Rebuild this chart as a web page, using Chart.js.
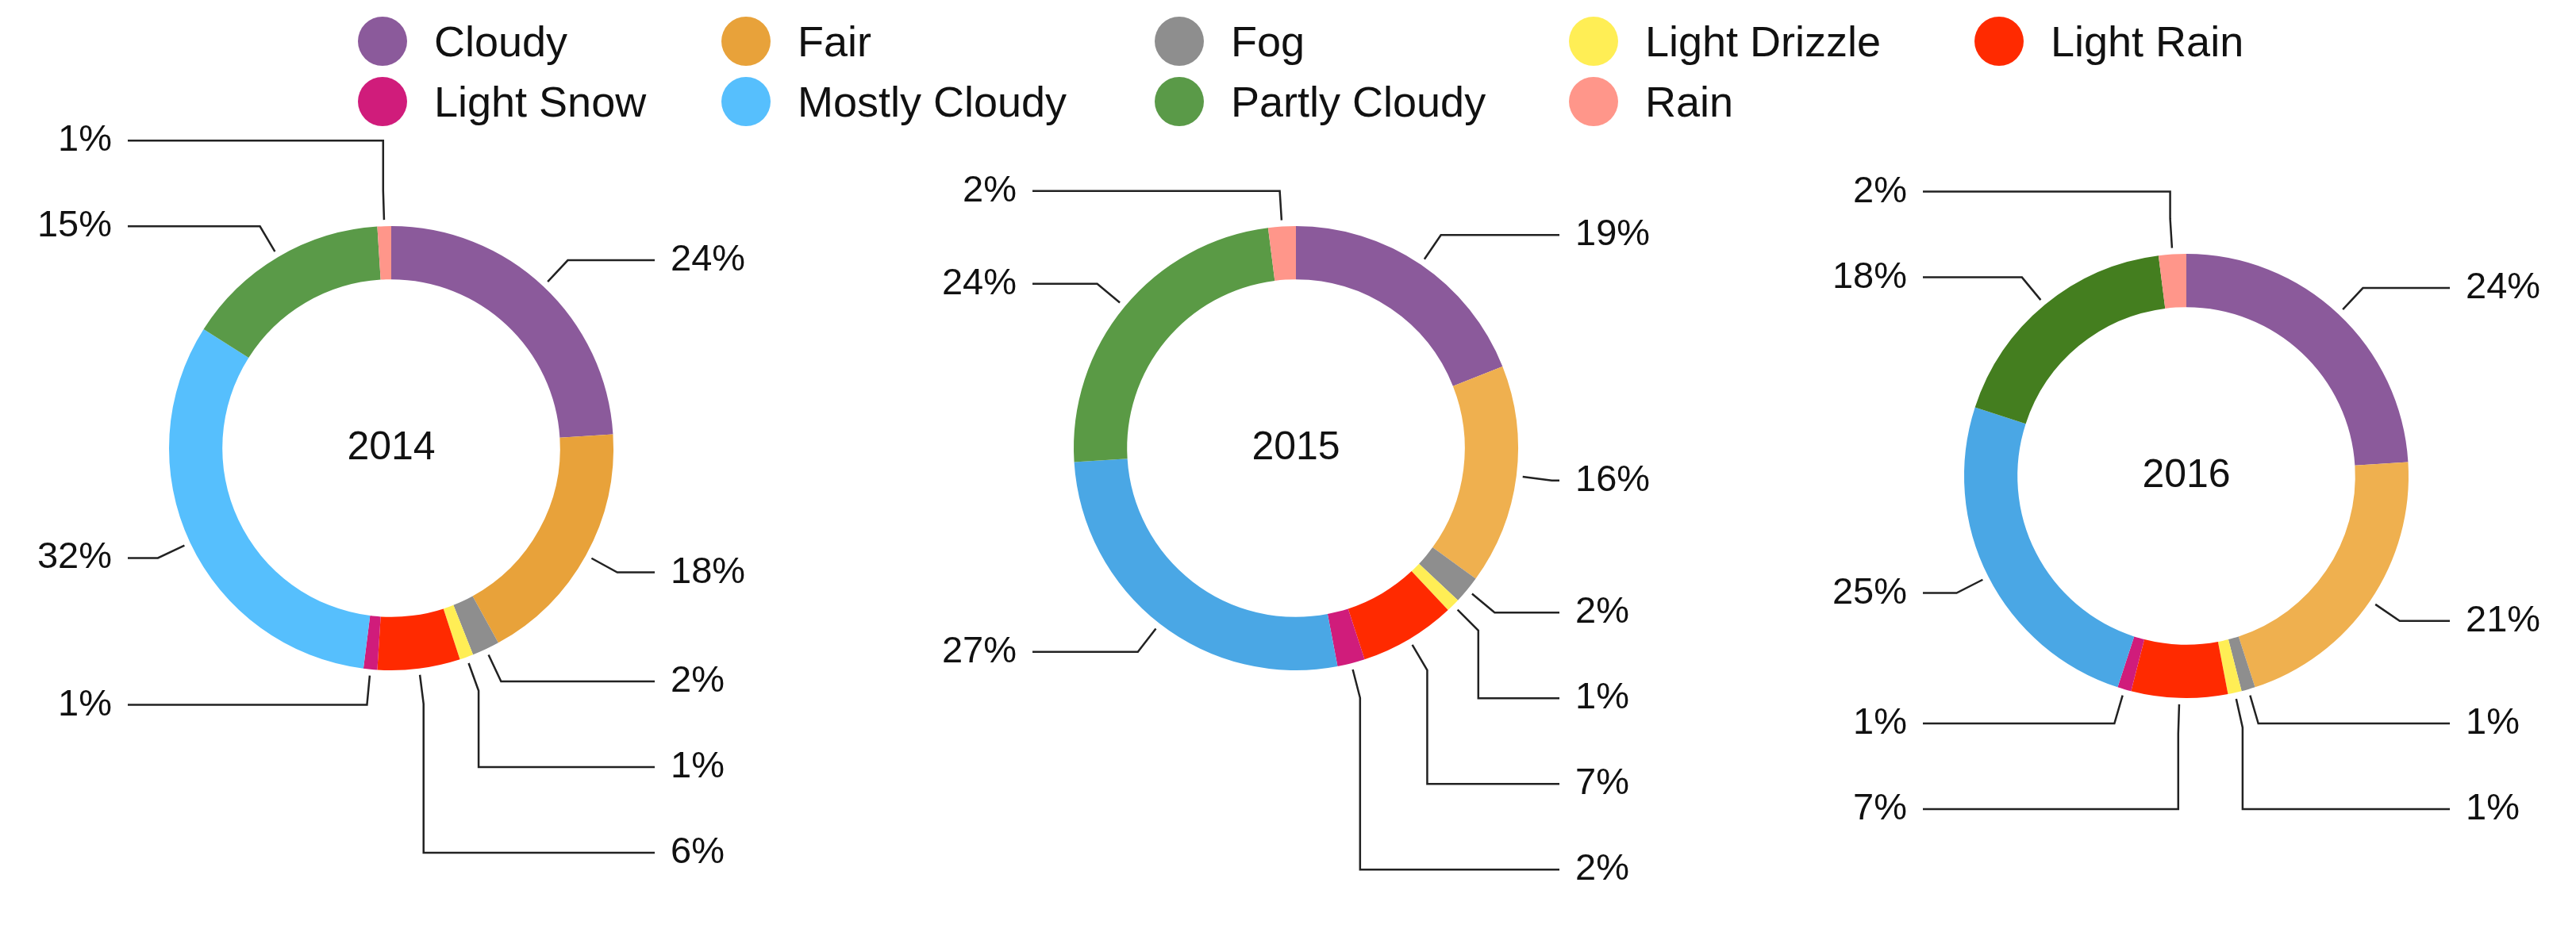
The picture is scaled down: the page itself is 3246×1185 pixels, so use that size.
<!DOCTYPE html>
<html>
<head>
<meta charset="utf-8">
<script src="https://cdn.jsdelivr.net/npm/chart.js@4"></script>
<style>
  body { margin: 0; background: #fff; font-family: "Liberation Sans", Arial, sans-serif; }
  #wrap { position: relative; width: 3246px; height: 1185px; }
  .box { position: absolute; top: 0; width: 1082px; height: 1185px; }
  .leg { position: absolute; display: flex; align-items: center; font-size: 54px; color: #111; white-space: nowrap; }
  .leg i { display: inline-block; width: 62px; height: 62px; border-radius: 50%; margin-right: 34px; }
</style>
</head>
<body>
<div id="wrap">
  <div class="box" style="left:0"><canvas id="c0"></canvas></div>
  <div class="box" style="left:1082px"><canvas id="c1"></canvas></div>
  <div class="box" style="left:2164px"><canvas id="c2"></canvas></div>
</div>
<script>
// -------- Data --------
const categories = ["Cloudy", "Fair", "Fog", "Light Drizzle", "Light Rain", "Light Snow", "Mostly Cloudy", "Partly Cloudy", "Rain"];
const years = ["2014", "2015", "2016"];
const values2014 = [24, 18, 2, 1, 6, 1, 32, 15, 1];
const values2015 = [19, 16, 2, 1, 7, 2, 27, 24, 2];
const values2016 = [24, 21, 1, 1, 7, 1, 25, 18, 2];

const colors2014 = ["#8B5A9B", "#E8A23A", "#8E8E8E", "#FFEE55", "#FF2A00", "#D01C7B", "#56BFFD", "#5A9A48", "#FF968A"];
const colors2015 = ["#8B5A9B", "#EFB04F", "#8E8E8E", "#FFEE55", "#FF2A00", "#D01C7B", "#4AA7E5", "#5A9A45", "#FF968A"];
const colors2016 = ["#8B5A9B", "#EFB04F", "#8E8E8E", "#FFEE55", "#FF2A00", "#D01C7B", "#4AA7E5", "#447E1F", "#FF968A"];

// -------- Legend --------
const legX = [482, 940, 1486, 2008, 2519];
categories.forEach((c, i) => {
    const d = document.createElement("div");
    d.className = "leg";
    d.style.left = (legX[i % 5] - 31) + "px";
    d.style.top = (i < 5 ? 21 : 97) + "px";
    d.innerHTML = `<i style="background:${colors2014[i]}"></i>${c}`;
    document.getElementById("wrap").appendChild(d);
});

// -------- Leader labels plugin --------
const leaderPlugin = {
    id: "leaders",
    afterDraw(chart) {
        const ctx = chart.ctx;
        const arcs = chart.getDatasetMeta(0).data;
        const cx = arcs[0].x, cy = arcs[0].y, r = arcs[0].outerRadius;
        const vals = chart.data.datasets[0].data;
        const items = arcs.map((a, i) => {
            const mid = (a.startAngle + a.endAngle) / 2;
            const p0 = { x: cx + Math.cos(mid) * (r + 8), y: cy + Math.sin(mid) * (r + 8) };
            const p1 = { x: cx + Math.cos(mid) * (r + 45), y: cy + Math.sin(mid) * (r + 45) };
            return { i, p0, p1, y: p1.y, right: Math.cos(mid) >= 0 };
        });
        const gap = 108;
        [true, false].forEach(side => {
            // lower half: push down
            const low = items.filter(o => o.right === side && o.p1.y >= cy).sort((a, b) => a.p1.y - b.p1.y);
            for (let k = 1; k < low.length; k++) {
                if (low[k].y < low[k - 1].y + gap) low[k].y = low[k - 1].y + gap;
            }
            // upper half: push up
            const up = items.filter(o => o.right === side && o.p1.y < cy).sort((a, b) => b.p1.y - a.p1.y);
            for (let k = 1; k < up.length; k++) {
                if (up[k].y > up[k - 1].y - gap) up[k].y = up[k - 1].y - gap;
            }
        });
        ctx.save();
        ctx.strokeStyle = "#222";
        ctx.lineWidth = 2.5;
        ctx.fillStyle = "#111";
        ctx.font = "47px 'Liberation Sans', Arial, sans-serif";
        ctx.textBaseline = "middle";
        items.forEach(o => {
            const endX = o.right ? cx + r + 52 : cx - r - 52;
            ctx.beginPath();
            ctx.moveTo(o.p0.x, o.p0.y);
            ctx.lineTo(o.p1.x, o.p1.y);
            ctx.lineTo(o.p1.x, o.y);
            ctx.lineTo(endX, o.y);
            ctx.stroke();
            ctx.textAlign = o.right ? "left" : "right";
            ctx.fillText(vals[o.i] + "%", o.right ? cx + r + 72 : cx - r - 72, o.y);
        });
        ctx.textAlign = "center";
        ctx.font = "50px 'Liberation Sans', Arial, sans-serif";
        ctx.fillText(chart.options.plugins.centerText, cx, cy);
        ctx.restore();
    }
};

// -------- Charts --------
const series = [values2014, values2015, values2016];
const palettes = [colors2014, colors2015, colors2016];
const pads = [
    { left: 213, right: 309, top: 285, bottom: 340 },
    { left: 271, right: 251, top: 285, bottom: 340 },
    { left: 311, right: 211, top: 320, bottom: 305 }
];

series.forEach((vals, k) => {
    new Chart(document.getElementById("c" + k), {
        type: "doughnut",
        data: {
            labels: categories,
            datasets: [{ data: vals, backgroundColor: palettes[k], borderWidth: 0 }]
        },
        options: {
            responsive: true,
            maintainAspectRatio: false,
            animation: false,
            cutout: "76%",
            layout: { padding: pads[k] },
            plugins: { legend: { display: false }, tooltip: { enabled: false }, centerText: years[k] }
        },
        plugins: [leaderPlugin]
    });
});
</script>
</body>
</html>
